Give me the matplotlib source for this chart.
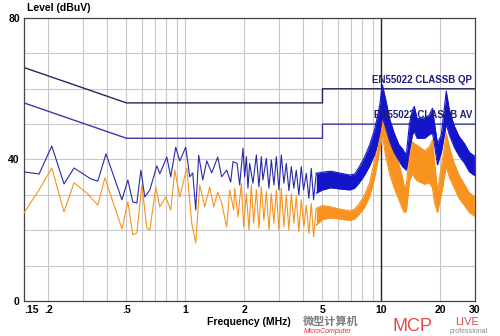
import matplotlib
matplotlib.use("Agg")
import matplotlib.pyplot as plt

plt.rcParams["font.family"] = ["Liberation Sans", "DejaVu Sans"]

# EN55022 class B limits
limit_freq = [0.15, 0.5, 0.5, 5, 5, 30]
qp_limit = [66, 56, 56, 56, 60, 60]
av_limit = [56, 46, 46, 46, 50, 50]

# QP trace (blue), low / mid frequency part
qp_freq = [0.15, 0.179, 0.208, 0.240, 0.270, 0.329, 0.357, 0.393, 0.474, 0.508,
           0.539, 0.565, 0.592, 0.620, 0.658, 0.714, 0.740, 0.803, 0.841, 0.892,
           0.935, 1.003, 1.051, 1.089, 1.128, 1.168, 1.225, 1.284, 1.361, 1.460,
           1.530, 1.623, 1.701, 1.747, 1.832, 1.890, 1.965, 2.004, 2.045, 2.083,
           2.125, 2.209, 2.299, 2.370, 2.438, 2.484, 2.585, 2.665, 2.741, 2.826,
           2.907, 2.997, 3.082, 3.177, 3.268, 3.370, 3.467, 3.573, 3.675, 3.789,
           3.897, 4.004, 4.133, 4.262, 4.383, 4.503, 4.647]
qp_level = [36.5, 35.9, 43.8, 33.1, 37.6, 34.5, 33.9, 41.6, 28.6, 34.2,
            28.0, 27.7, 37.0, 29.4, 31.4, 38.2, 36.0, 40.7, 35.1, 43.5,
            39.6, 43.5, 35.1, 36.2, 25.7, 41.2, 34.2, 39.6, 36.2, 40.7,
            35.1, 37.0, 33.6, 39.4, 38.9, 32.8, 43.2, 35.1, 40.8, 31.9,
            38.9, 33.3, 41.3, 32.3, 40.8, 34.2, 40.3, 31.9, 39.9, 32.8,
            40.8, 31.4, 41.3, 33.3, 38.9, 31.2, 38.0, 31.9, 37.0, 30.0,
            38.0, 31.4, 36.1, 29.0, 37.5, 28.6, 36.1]

# AV trace (orange), low / mid frequency part
av_freq = [0.15, 0.179, 0.208, 0.240, 0.270, 0.314, 0.357, 0.388, 0.474, 0.508,
           0.539, 0.565, 0.599, 0.635, 0.658, 0.706, 0.740, 0.793, 0.841, 0.882,
           0.935, 1.015, 1.076, 1.128, 1.182, 1.254, 1.329, 1.393, 1.460, 1.530,
           1.623, 1.681, 1.762, 1.782, 1.853, 1.928, 1.980, 2.045, 2.108, 2.168,
           2.227, 2.299, 2.370, 2.438, 2.513, 2.585, 2.665, 2.741, 2.826, 2.907,
           2.997, 3.082, 3.177, 3.268, 3.370, 3.467, 3.573, 3.675, 3.789, 3.897,
           4.018, 4.133, 4.262, 4.383, 4.503, 4.647]
av_level = [24.9, 31.4, 37.6, 25.2, 33.4, 30.5, 27.1, 34.8, 20.4, 28.0,
            18.7, 19.2, 32.8, 20.6, 20.1, 32.2, 26.6, 29.4, 25.7, 37.0,
            29.4, 37.6, 22.0, 16.4, 32.8, 26.6, 32.2, 26.6, 30.8, 27.7,
            20.9, 31.4, 25.7, 31.9, 23.8, 33.3, 21.0, 30.4, 20.1, 32.8,
            22.0, 31.4, 20.6, 32.3, 22.9, 30.9, 20.1, 30.4, 22.0, 31.4,
            20.1, 31.9, 21.0, 30.0, 20.1, 30.4, 22.0, 29.5, 19.6, 28.6,
            21.0, 27.1, 19.1, 27.6, 18.2, 26.2]

# dense part above ~4.6 MHz: min / max of the noisy traces
band_freq = [4.65, 5.0, 5.5, 6.1, 6.9, 7.3, 7.7, 8.2, 8.7, 9.2,
             9.5, 9.8, 10.1, 10.5, 11.0, 11.6, 12.3, 12.8, 13.1, 13.4,
             13.9, 14.4, 14.7, 15.2, 16.6, 17.5, 18.2, 18.6, 19.3, 20.2,
             21.4, 22.2, 23.5, 24.9, 26.5, 28.1, 29.8]
qp_lo = [30.5, 31.4, 32.0, 31.7, 31.4, 31.9, 33.4, 35.6, 38.2, 41.3,
         44.0, 47.5, 52.0, 49.0, 45.2, 42.0, 39.6, 38.0, 37.5, 37.0,
         42.7, 47.0, 48.0, 46.0, 46.0, 47.0, 47.5, 44.5, 38.5, 42.0,
         50.0, 47.0, 43.5, 41.0, 39.0, 36.5, 35.5]
qp_hi = [36.1, 36.4, 36.7, 36.2, 35.6, 35.9, 37.9, 40.7, 44.1, 48.3,
         51.7, 55.4, 61.1, 57.0, 51.5, 47.5, 44.1, 43.0, 42.0, 41.5,
         50.3, 54.0, 55.0, 51.5, 51.8, 52.5, 54.5, 50.5, 44.5, 47.0,
         59.3, 54.0, 49.5, 46.5, 44.5, 42.0, 41.0]
av_lo = [21.5, 23.0, 23.5, 23.2, 22.8, 23.2, 24.5, 26.5, 29.5, 34.5,
         38.5, 42.5, 47.0, 41.0, 36.0, 32.0, 28.5, 26.0, 25.0, 25.5,
         34.0, 36.0, 35.0, 34.0, 33.0, 33.5, 32.0, 28.0, 25.0, 30.0,
         38.0, 35.0, 32.0, 29.0, 27.0, 25.0, 24.0]
av_hi = [26.2, 27.0, 26.6, 26.0, 25.5, 26.0, 27.5, 30.0, 33.5, 39.5,
         43.5, 47.5, 54.0, 48.5, 47.0, 43.0, 38.5, 35.0, 32.0, 33.0,
         42.0, 45.0, 44.5, 44.0, 42.5, 43.5, 45.5, 40.0, 31.0, 38.0,
         47.5, 43.5, 39.0, 35.5, 33.0, 30.5, 29.5]

grid_x = [0.2, 0.3, 0.4, 0.5, 0.6, 0.7, 0.8, 0.9, 1, 2, 3, 4, 5, 6, 7, 8, 9, 20, 30]
tick_x = [0.15, 0.2, 0.5, 1, 2, 5, 10, 20, 30]
tick_x_labels = [".15", ".2", ".5", "1", "2", "5", "10", "20", "30"]

blue = "#1414c8"
orange = "#f7931e"
navy = "#1e1e78"

fig = plt.figure(figsize=(5, 3.36), dpi=100)
ax = fig.add_axes([0.048, 0.1042, 0.902, 0.8422])
ax.set_xscale("log")
ax.set_xlim(0.15, 30)
ax.set_ylim(0, 80)

for g in grid_x:
    ax.axvline(g, color="#c8c8c8", lw=0.8, zorder=0)
for h in range(10, 80, 10):
    ax.axhline(h, color="#c8c8c8", lw=0.8, zorder=0)
ax.axvline(10, color="#222222", lw=1.0, zorder=1)

ax.plot(limit_freq, qp_limit, color="#262660", lw=1.0, zorder=2)
ax.plot(limit_freq, av_limit, color="#3838a8", lw=1.0, zorder=2)

ax.plot(av_freq, av_level, color=orange, lw=0.8, zorder=3)
ax.fill_between(band_freq, av_lo, av_hi, color=orange, lw=0, zorder=3)
ax.plot(band_freq, av_lo, color=orange, lw=0.8, zorder=3)
ax.plot(band_freq, av_hi, color=orange, lw=0.8, zorder=3)

ax.plot(qp_freq, qp_level, color="#2a2aa8", lw=0.8, zorder=4)
ax.fill_between(band_freq, qp_lo, qp_hi, color=blue, lw=0, zorder=4)
ax.plot(band_freq, qp_lo, color=blue, lw=0.8, zorder=4)
ax.plot(band_freq, qp_hi, color=blue, lw=0.8, zorder=4)

ax.text(29, 61.2, "EN55022 CLASSB QP", color=navy, fontsize=7, fontweight="bold",
        ha="right", va="bottom", zorder=5)
ax.text(29, 51.2, "EN55022 CLASSB AV", color=navy, fontsize=7, fontweight="bold",
        ha="right", va="bottom", zorder=5)

ax.set_xticks(tick_x)
ax.set_xticklabels(tick_x_labels)
ax.xaxis.set_minor_locator(plt.NullLocator())
ax.set_yticks([0, 40, 80])
ax.tick_params(length=0, labelsize=7.5, pad=3)
for lab in ax.get_xticklabels() + ax.get_yticklabels():
    lab.set_fontweight("bold")
ax.get_xticklabels()[0].set_horizontalalignment("left")
for s in ax.spines.values():
    s.set_color("#444444")
    s.set_linewidth(0.9)

fig.text(0.054, 0.975, "Level (dBuV)", fontsize=7.5, fontweight="bold", va="center")
fig.text(0.498, 0.042, "Frequency (MHz)", fontsize=7.5, fontweight="bold",
         ha="center", va="center")

# watermark
fig.text(0.606, 0.044, "微型计算机", fontsize=8, color="#7a7a7a", fontweight="bold",
         family=["Noto Sans CJK SC", "DejaVu Sans"], va="center")
fig.text(0.608, 0.013, "MicroComputer", fontsize=5, color="#e03030", style="italic",
         va="center")
fig.text(0.784, 0.003, "MCP", fontsize=13, color="#e84848", va="bottom")
fig.text(0.91, 0.042, "LIVE", fontsize=8, color="#e84848", va="center")
fig.text(0.9, 0.012, "professional", fontsize=5, color="#888888", va="center")

fig.savefig("out.png", dpi=100)
